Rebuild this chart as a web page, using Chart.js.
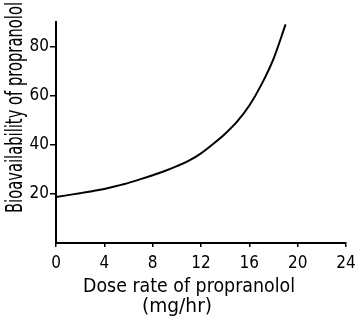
<!DOCTYPE html>
<html>
<head>
<meta charset="utf-8">
<script src="https://cdn.jsdelivr.net/npm/chart.js@4/dist/chart.umd.min.js"></script>
<style>
html,body{margin:0;padding:0;background:#fff}
#wrap{width:356px;height:320px}
</style>
</head>
<body>
<div id="wrap"><canvas id="grafico" width="356" height="320"></canvas></div>
<script>

// taxa de dose (mg/hr) e biodisponibilidade (%)
const doseRate=[0,1,2,3,4,5,6,7,8,9,10,11,12,13,14,15,16,17,18,19]
const bioavail=[18.7,19.5,20.3,21.1,22,23.2,24.5,26,27.6,29.3,31.3,33.5,36.5,40.3,44.5,49.5,56,64.5,75,89]

const xTicks=[0,4,8,12,16,20,24]
const yTicks=[20,40,60,80]

const fonteTick="'DejaVu Sans Condensed','DejaVu Sans',sans-serif"

// titulos desenhados a mao, comprimidos na largura certa
const titulos={
id:"titulos",
afterDraw(chart){
const ctx=chart.ctx
desenhaTexto(ctx,"Bioavailability of propranolol",22,107.5,211,"23px "+fonteTick,-Math.PI/2)
desenhaTexto(ctx,"Dose rate of propranolol",189,292,212,"19px "+fonteTick,0)
desenhaTexto(ctx,"(mg/hr)",177,312,70,"19px "+fonteTick,0)
}
}

function desenhaTexto(ctx,texto,x,y,largura,fonte,angulo){
ctx.save()
ctx.translate(x,y)
ctx.rotate(angulo)
ctx.font=fonte
ctx.fillStyle="#000"
ctx.textAlign="center"
ctx.textBaseline="alphabetic"
let w=ctx.measureText(texto).width
ctx.scale(largura/w,1)
ctx.fillText(texto,0,0)
ctx.restore()
}

new Chart(document.getElementById("grafico"),{

type:"line",

data:{
datasets:[{
data:doseRate.map((d,i)=>({x:d,y:bioavail[i]})),
borderColor:"#000",
borderWidth:2,
pointRadius:0,
fill:false,
tension:0.4,
cubicInterpolationMode:"monotone"
}]
},

options:{
responsive:false,
animation:false,
layout:{padding:{top:22,right:10,left:0,bottom:0}},
plugins:{legend:{display:false},tooltip:{enabled:false}},
scales:{
x:{
type:"linear",
min:0,
max:24,
afterFit(s){s.height=77;s.paddingLeft=0;s.paddingRight=0},
afterBuildTicks(s){s.ticks=xTicks.map(v=>({value:v}))},
border:{color:"#000",width:2},
grid:{drawOnChartArea:false,drawTicks:true,tickLength:4,color:"#000",lineWidth:1.5},
ticks:{color:"#000",padding:6,font:{family:fonteTick,size:17},maxRotation:0}
},
y:{
min:0,
max:90,
afterFit(s){s.width=56;s.paddingTop=0;s.paddingBottom=0},
afterBuildTicks(s){s.ticks=yTicks.map(v=>({value:v}))},
border:{color:"#000",width:2},
grid:{drawOnChartArea:false,drawTicks:true,tickLength:6,color:"#000",lineWidth:1.5},
ticks:{color:"#000",padding:1,font:{family:fonteTick,size:17}}
}
}
},

plugins:[titulos]

})

</script>
</body>
</html>
